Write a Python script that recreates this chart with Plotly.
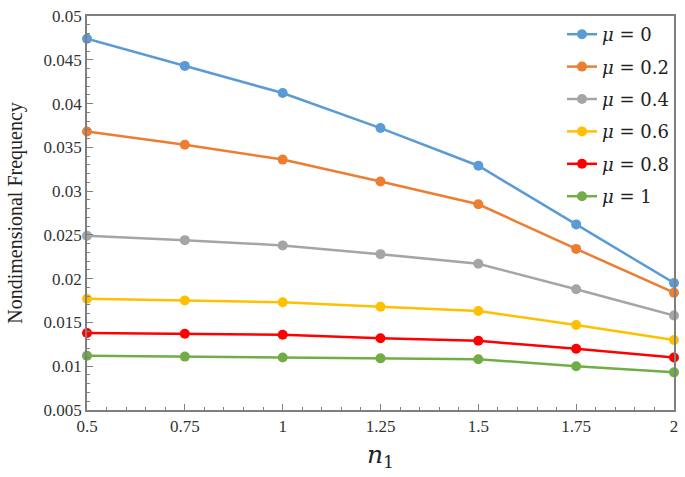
import plotly.graph_objects as go

# n1 values on the x axis
n1 = [0.5, 0.75, 1, 1.25, 1.5, 1.75, 2]

# nondimensional frequency for each mu
mu_0 = [0.0474, 0.0443, 0.0412, 0.0372, 0.0329, 0.0262, 0.0195]
mu_02 = [0.0368, 0.0353, 0.0336, 0.0311, 0.0285, 0.0234, 0.0184]
mu_04 = [0.0249, 0.0244, 0.0238, 0.0228, 0.0217, 0.0188, 0.0158]
mu_06 = [0.0177, 0.0175, 0.0173, 0.0168, 0.0163, 0.0147, 0.0130]
mu_08 = [0.0138, 0.0137, 0.0136, 0.0132, 0.0129, 0.0120, 0.0110]
mu_1 = [0.0112, 0.0111, 0.0110, 0.0109, 0.0108, 0.0100, 0.0093]

series = [
    ("0", mu_0, "#5B9BD5"),
    ("0.2", mu_02, "#ED7D31"),
    ("0.4", mu_04, "#A5A5A5"),
    ("0.6", mu_06, "#FFC000"),
    ("0.8", mu_08, "#FF0000"),
    ("1", mu_1, "#70AD47"),
]

fig = go.Figure()

for label, vals, color in series:
    fig.add_trace(go.Scatter(
        x=n1, y=vals, mode="lines+markers",
        name="<i>μ</i> = " + label,
        legendgroup=label,
        line=dict(color=color, width=2.5),
        marker=dict(color=color, size=10),
        cliponaxis=False,
    ))

axis_common = dict(
    showgrid=False, zeroline=False,
    showline=True, mirror=True, linecolor="#7f7f7f", linewidth=1.5,
    ticks="inside", ticklen=6, tickcolor="#7f7f7f",
    tickfont=dict(family="Liberation Serif", size=17, color="#333333"),
)

fig.update_xaxes(
    range=[0.5, 2], tickvals=n1, ticktext=["0.5", "0.75", "1", "1.25", "1.5", "1.75", "2"],
    minor=dict(dtick=0.05, ticks="inside", ticklen=3, tickcolor="#7f7f7f"),
    title=dict(text="<i>n</i><sub>1</sub>", font=dict(family="DejaVu Serif", size=25, color="#222222"),
               standoff=10),
    **axis_common,
)
fig.update_yaxes(
    range=[0.005, 0.05],
    tickvals=[0.005, 0.01, 0.015, 0.02, 0.025, 0.03, 0.035, 0.04, 0.045, 0.05],
    ticktext=["0.005", "0.01", "0.015", "0.02", "0.025", "0.03", "0.035", "0.04", "0.045", "0.05"],
    minor=dict(dtick=0.001, ticks="inside", ticklen=3, tickcolor="#7f7f7f"),
    title=dict(text="Nondimensional Frequency", font=dict(family="Liberation Serif", size=20, color="#222222"),
               standoff=16),
    **axis_common,
)

fig.update_layout(
    width=685, height=477,
    margin=dict(l=87, r=7, t=10, b=67),
    paper_bgcolor="white", plot_bgcolor="white",
    legend=dict(
        x=1, y=1.0, xanchor="right", yanchor="top",
        bgcolor="white", tracegroupgap=6,
        font=dict(family="DejaVu Serif", size=18, color="#222222"),
    ),
    showlegend=True,
)

fig.write_html("out.html", config={"displayModeBar": False},
               post_script="document.body.style.margin='0';")
